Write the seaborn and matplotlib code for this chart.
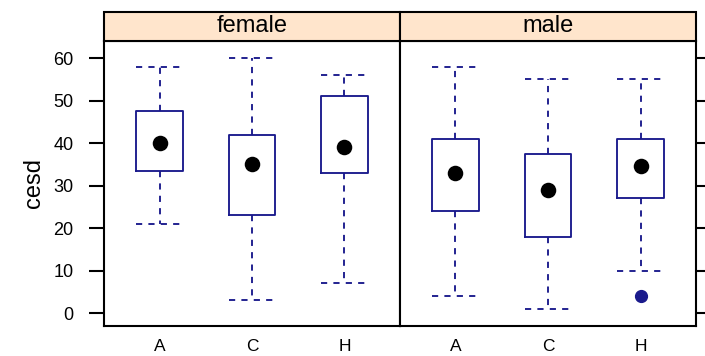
import numpy as np
import pandas as pd
import seaborn as sns
import matplotlib
matplotlib.use("Agg")
import matplotlib.pyplot as plt
from matplotlib.patches import Rectangle

# ---- data ----
sexes = ["female", "male"]
groups = ["A", "C", "H"]
whislo = {"female": [21, 3, 7], "male": [4, 1, 10]}
q1 = {"female": [33.5, 23, 33], "male": [24, 18, 27]}
med = {"female": [40, 35, 39], "male": [33, 29, 34.5]}
q3 = {"female": [47.5, 42, 51], "male": [41, 37.5, 41]}
whishi = {"female": [58, 60, 56], "male": [58, 55, 55]}
fliers = {"female": [[], [], []], "male": [[], [], [4]]}
yticks = [0, 10, 20, 30, 40, 50, 60]

rows = []
for s in sexes:
    for i, g in enumerate(groups):
        rows.append(dict(sex=s, group=g, pos=i + 1, whislo=whislo[s][i], q1=q1[s][i],
                         med=med[s][i], q3=q3[s][i], whishi=whishi[s][i],
                         fliers=fliers[s][i]))
df = pd.DataFrame(rows)

BOX = "#1a1a8c"
sns.set_theme(style="white")
plt.rcParams["font.family"] = ["Liberation Sans", "DejaVu Sans"]
plt.rcParams["text.color"] = "black"
plt.rcParams["axes.labelcolor"] = "black"
plt.rcParams["xtick.color"] = "black"
plt.rcParams["ytick.color"] = "black"

g = sns.FacetGrid(df, col="sex", col_order=sexes, sharey=True, height=3.5, aspect=1.0)

LW = 1.35


def draw_boxes(data, **kws):
    ax = plt.gca()
    stats = []
    for _, r in data.iterrows():
        stats.append(dict(whislo=r.whislo, q1=r.q1, med=r.med, q3=r.q3,
                          whishi=r.whishi, fliers=r.fliers))
    ax.bxp(stats, positions=list(data["pos"]), widths=0.5, showfliers=True,
           boxprops=dict(color=BOX, lw=LW),
           whiskerprops=dict(color=BOX, lw=LW, linestyle=(0, (3.3, 3.3))),
           capprops=dict(color=BOX, lw=LW, linestyle=(0, (3.3, 3.3))),
           capwidths=0.5,
           medianprops=dict(visible=False),
           flierprops=dict(marker="o", markerfacecolor=BOX, markeredgecolor=BOX,
                           markersize=8.5))


g.map_dataframe(draw_boxes)
g.map_dataframe(sns.scatterplot, x="pos", y="med", color="black", s=125,
                edgecolor="black", linewidth=0, zorder=5)

fig = g.figure
fig.set_size_inches(7.05, 3.56)
fig.set_dpi(100)
fig.subplots_adjust(left=104 / 705, right=696 / 705, bottom=1 - 326 / 356,
                    top=1 - 41 / 356, wspace=0)

strip_h = 29 / 285
for ax, s in zip(g.axes.flat, sexes):
    ax.set_xlim(0.4, 3.6)
    ax.set_ylim(-3, 64)
    ax.set_xticks([1, 2, 3])
    ax.set_xticklabels(groups, fontsize=12.5, color="black")
    ax.set_title("")
    ax.set_xlabel("")
    ax.set_ylabel("")
    for sp in ax.spines.values():
        sp.set_visible(True)
        sp.set_color("black")
        sp.set_linewidth(1.5)
    ax.add_patch(Rectangle((0, 1), 1, strip_h, transform=ax.transAxes, clip_on=False,
                           facecolor="#FFE5CC", edgecolor="black", lw=1.5, zorder=3))
    ax.text(0.5, 1 + strip_h / 2, s, transform=ax.transAxes, ha="center", va="center",
            fontsize=17, color="black", zorder=4)
    ax.tick_params(axis="x", length=0, pad=9.5)
    ax.set_yticks(yticks)

axL, axR = g.axes.flat
axL.tick_params(axis="y", direction="out", length=11, width=1.5, labelsize=13,
                pad=11, left=True, color="black", labelcolor="black")
axR.tick_params(axis="y", direction="out", length=11, width=1.5, left=False, right=True,
                labelleft=False, labelright=False, color="black")
axL.set_ylabel("cesd", fontsize=17, color="black")
axL.yaxis.set_label_coords(-0.2, 0.5)

fig.savefig("out.png", dpi=100)
